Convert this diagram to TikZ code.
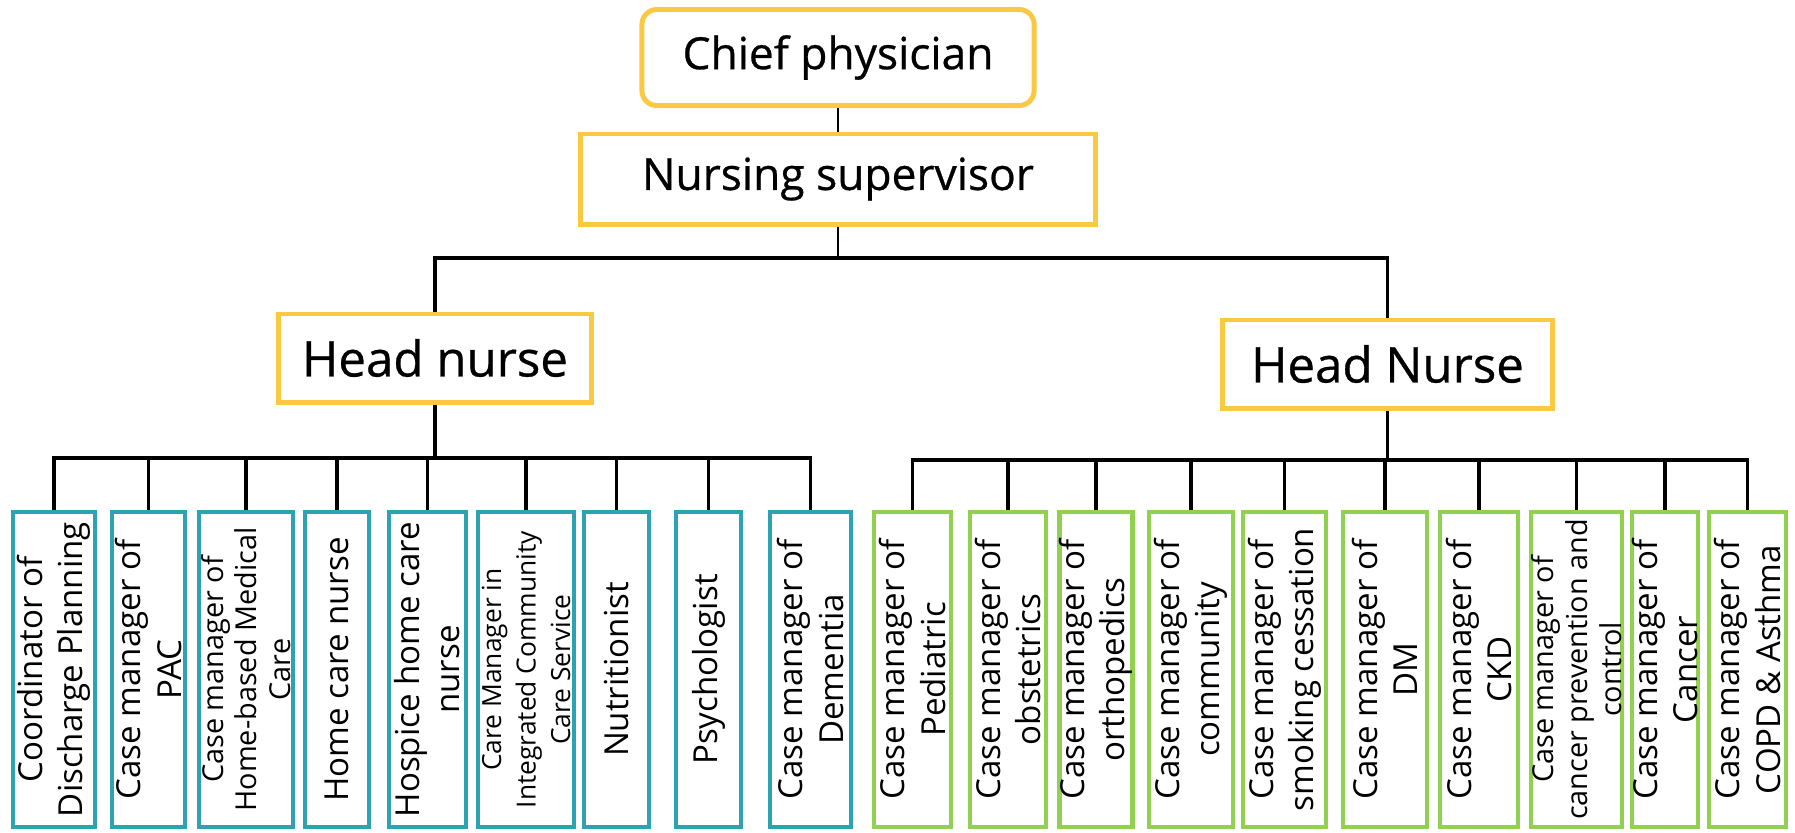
\documentclass[tikz,border=0pt]{standalone}
\usepackage{fontspec}
\setmainfont{Open Sans}
\newfontfamily\headfont{Open Sans}[FakeBold=0.6]
\usepackage{xcolor}
\definecolor{boxyellow}{RGB}{250,200,65}
\definecolor{boxteal}{RGB}{44,163,177}
\definecolor{boxgreen}{RGB}{146,208,80}

\begin{document}
\begin{tikzpicture}[x=0.01cm, y=-0.01cm]
  \useasboundingbox (0,0) rectangle (1795,832);

  % Define styles for boxes and links
  \tikzstyle{topbox} = [rectangle, draw=boxyellow, line width=1.4pt, fill=white, text centered, inner sep=0pt, font=\headfont\fontsize{12.6}{15}\selectfont]
  \tikzstyle{headbox} = [topbox, font=\headfont\fontsize{14}{17}\selectfont, minimum height=0.88cm]
  \tikzstyle{staffA} = [rectangle, draw=boxteal, line width=1.3pt, rotate=90, align=center, inner sep=0pt, minimum width=3.15cm, font=\fontsize{9.4}{11.4}\selectfont]
  \tikzstyle{staffB} = [staffA, draw=boxgreen]
  \tikzstyle{smalltext} = [font=\fontsize{8.2}{9.6}\selectfont]
  \tikzstyle{tinytext} = [font=\fontsize{7.5}{9.8}\selectfont]
  \tikzstyle{link} = [draw, black, line width=0.8pt]

  % Top of the chart
  \node[topbox, rounded corners=0.15cm, minimum width=3.92cm, minimum height=0.96cm] (chief) at (838,57.5) {Chief physician};
  \node[topbox, minimum width=5.14cm, minimum height=0.9cm] (nursing) at (838,179) {Nursing supervisor};

  % Head nurses
  \node[headbox, minimum width=3.12cm] (headL) at (435,358) {Head nurse};
  \node[headbox, minimum width=3.29cm] (headR) at (1387.5,364) {Head Nurse};

  % Staff under the left head nurse
  \node[staffA, minimum height=0.82cm] (left1) at (54,669.5) {Coordinator of\\Discharge Planning};
  \node[staffA, minimum height=0.73cm] (left2) at (148.5,669.5) {Case manager of\\PAC};
  \node[staffA, smalltext, minimum height=0.94cm] (left3) at (246,669.5) {Case manager of\\Home-based Medical\\Care};
  \node[staffA, minimum height=0.64cm] (left4) at (337,669.5) {Home care nurse};
  \node[staffA, minimum height=0.77cm] (left5) at (427.5,669.5) {Hospice home care\\nurse};
  \node[staffA, tinytext, minimum height=0.96cm] (left6) at (526,669.5) {Care Manager in\\Integrated Community\\Care Service};
  \node[staffA, minimum height=0.65cm] (left7) at (616.5,669.5) {Nutritionist};
  \node[staffA, minimum height=0.65cm] (left8) at (708.5,669.5) {Psychologist};
  \node[staffA, minimum height=0.81cm] (left9) at (810.5,669.5) {Case manager of\\Dementia};

  % Staff under the right head nurse
  \node[staffB, minimum height=0.77cm] (right1) at (912.5,669.5) {Case manager of\\Pediatric};
  \node[staffB, minimum height=0.76cm] (right2) at (1008,669.5) {Case manager of\\obstetrics};
  \node[staffB, minimum height=0.70cm] (right3) at (1096,669.5) {Case manager of\\orthopedics};
  \node[staffB, minimum height=0.84cm] (right4) at (1191,669.5) {Case manager of\\community};
  \node[staffB, minimum height=0.83cm] (right5) at (1284.5,669.5) {Case manager of\\smoking cessation};
  \node[staffB, minimum height=0.84cm] (right6) at (1385,669.5) {Case manager of\\DM};
  \node[staffB, minimum height=0.78cm] (right7) at (1479,669.5) {Case manager of\\CKD};
  \node[staffB, smalltext, minimum height=0.91cm] (right8) at (1576.5,669.5) {Case manager of\\cancer prevention and\\control};
  \node[staffB, minimum height=0.66cm] (right9) at (1665,669.5) {Case manager of\\Cancer};
  \node[staffB, minimum height=0.77cm] (right10) at (1747.5,669.5) {Case manager of\\COPD \& Asthma};

  % Bus points
  \coordinate (topbus) at (838,258);
  \coordinate (busL) at (435,458);
  \coordinate (busR) at (1387.5,460);

  % Links at the top
  \draw[link] (chief) -- (nursing);
  \draw[link] (nursing.south) -- (topbus);
  \draw[link, line width=1pt] (headL.north) |- (topbus) -| (headR.north);

  % Links on the left
  \draw[link, line width=1pt] (headL.south) -- (busL);
  \draw[link, line width=1pt] (left1.east) |- (busL);
  \draw[link, line width=1pt] (left2.east) |- (busL);
  \draw[link, line width=1pt] (left3.east) |- (busL);
  \draw[link, line width=1pt] (left4.east) |- (busL);
  \draw[link, line width=1pt] (left5.east) |- (busL);
  \draw[link, line width=1pt] (left6.east) |- (busL);
  \draw[link, line width=1pt] (left7.east) |- (busL);
  \draw[link, line width=1pt] (left8.east) |- (busL);
  \draw[link, line width=1pt] (left9.east) |- (busL);

  % Links on the right
  \draw[link, line width=1pt] (headR.south) -- (busR);
  \draw[link, line width=1pt] (right1.east) |- (busR);
  \draw[link, line width=1pt] (right2.east) |- (busR);
  \draw[link, line width=1pt] (right3.east) |- (busR);
  \draw[link, line width=1pt] (right4.east) |- (busR);
  \draw[link, line width=1pt] (right5.east) |- (busR);
  \draw[link, line width=1pt] (right6.east) |- (busR);
  \draw[link, line width=1pt] (right7.east) |- (busR);
  \draw[link, line width=1pt] (right8.east) |- (busR);
  \draw[link, line width=1pt] (right9.east) |- (busR);
  \draw[link, line width=1pt] (right10.east) |- (busR);

\end{tikzpicture}
\end{document}
